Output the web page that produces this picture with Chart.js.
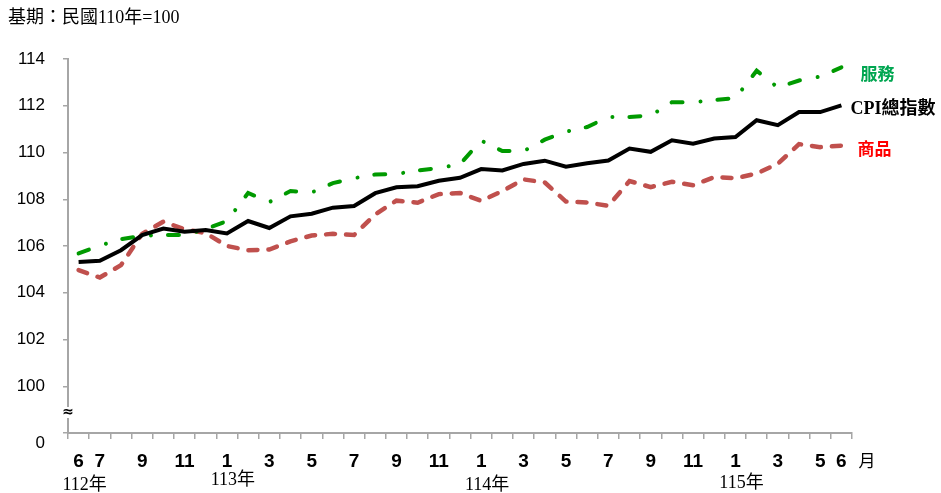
<!DOCTYPE html>
<html>
<head>
<meta charset="utf-8">
<script src="https://cdn.jsdelivr.net/npm/chart.js@4.4.1/dist/chart.umd.min.js"></script>
<style>
  html, body { margin: 0; padding: 0; background: #fff; }
  #wrap { width: 941px; height: 493px; position: relative; }
</style>
</head>
<body>
<div id="wrap"><canvas id="cpiChart"></canvas></div>
<script>
// 112年6月 ~ 115年6月
const months = [
  '112/6', '112/7', '112/8', '112/9', '112/10', '112/11', '112/12',
  '113/1', '113/2', '113/3', '113/4', '113/5', '113/6', '113/7', '113/8', '113/9', '113/10', '113/11', '113/12',
  '114/1', '114/2', '114/3', '114/4', '114/5', '114/6', '114/7', '114/8', '114/9', '114/10', '114/11', '114/12',
  '115/1', '115/2', '115/3', '115/4', '115/5', '115/6'
];
const monthTicks = [
  '6', '7', '', '9', '', '11', '',
  '1', '', '3', '', '5', '', '7', '', '9', '', '11', '',
  '1', '', '3', '', '5', '', '7', '', '9', '', '11', '',
  '1', '', '3', '', '5', '6'
];
const yearLabels = ['112年', '113年', '114年', '115年'];
const yearAt = ['112/6', '113/1', '114/1', '115/1'];

const cpiTotal = [
  105.32, 105.37, 105.82, 106.47, 106.75, 106.61, 106.68, 106.54, 107.07, 106.77,
  107.27, 107.38, 107.64, 107.71, 108.26, 108.51, 108.56, 108.79, 108.92, 109.29,
  109.23, 109.51, 109.65, 109.39, 109.54, 109.66, 110.17, 110.03, 110.52, 110.38,
  110.60, 110.66, 111.38, 111.17, 111.73, 111.73, 112.02
];
const services = [
  105.68, 106.02, 106.29, 106.44, 106.47, 106.47, 106.72, 107.07, 108.27, 107.88,
  108.35, 108.29, 108.69, 108.90, 109.06, 109.08, 109.23, 109.33, 109.50, 110.51,
  110.06, 110.06, 110.55, 110.89, 111.09, 111.52, 111.52, 111.58, 112.15, 112.15,
  112.24, 112.33, 113.50, 112.78, 113.08, 113.25, 113.64
];
const goods = [
  104.97, 104.65, 105.18, 106.52, 107.04, 106.72, 106.55, 106.00, 105.82, 105.85,
  106.20, 106.45, 106.52, 106.47, 107.35, 107.94, 107.85, 108.22, 108.27, 107.93,
  108.35, 108.85, 108.72, 107.90, 107.86, 107.72, 108.78, 108.52, 108.75, 108.60,
  108.95, 108.90, 109.10, 109.52, 110.36, 110.23, 110.29
];

const baseNote = '基期：民國110年=100';
const yMin = 98, yMax = 114, yStep = 2;

const axisGray = '#a6a6a6';
const yearY = [485, 480, 485, 483];

const extraText = {
  id: 'extraText',
  afterDraw(chart) {
    const ctx = chart.ctx;
    const xs = chart.scales.x;
    const ys = chart.scales.y;
    const last = months.length - 1;
    const lastX = xs.getPixelForValue(last);
    ctx.save();
    ctx.textBaseline = 'middle';

    // 基期
    ctx.fillStyle = '#000';
    ctx.textAlign = 'left';
    ctx.font = '18px "Liberation Serif", "Noto Sans CJK TC", serif';
    ctx.fillText(baseNote, 8, 18);

    // year labels under the month ticks
    ctx.textAlign = 'center';
    yearLabels.forEach(function(t, k) {
      const px = xs.getPixelForValue(months.indexOf(yearAt[k])) + 6;
      ctx.fillText(t, px, yearY[k]);
    });

    // 月
    ctx.font = '17px "Noto Sans CJK TC", sans-serif';
    ctx.fillText('月', xs.right + 15, 461);

    // axis break mark
    ctx.fillStyle = '#fff';
    ctx.fillRect(xs.left - 5, 407, 10, 11);
    ctx.fillStyle = '#000';
    ctx.font = 'bold 14px "DejaVu Sans", sans-serif';
    ctx.fillText('≈', xs.left, 412);

    // series names at the right end
    ctx.textAlign = 'left';
    ctx.font = 'bold 17px "Noto Sans CJK TC", sans-serif';
    ctx.fillStyle = '#00a651';
    ctx.fillText('服務', lastX + 19, ys.getPixelForValue(services[last]) + 6);

    ctx.font = 'bold 18px "Liberation Serif", "Noto Sans CJK TC", serif';
    ctx.fillStyle = '#000';
    ctx.fillText('CPI總指數', lastX + 9, ys.getPixelForValue(cpiTotal[last]) + 4.5);

    ctx.font = 'bold 17px "Noto Sans CJK TC", sans-serif';
    ctx.fillStyle = '#ff0000';
    ctx.fillText('商品', lastX + 16, ys.getPixelForValue(goods[last]) + 2.5);
    ctx.restore();
  }
};

const ctx = document.getElementById('cpiChart').getContext('2d');

const cpiChart = new Chart(ctx, {
  type: 'line',
  data: {
    labels: months,
    datasets: [
      {
        label: 'CPI總指數',
        data: cpiTotal,
        borderColor: '#000000',
        borderWidth: 4,
        borderJoinStyle: 'miter',
        pointRadius: 0,
        tension: 0
      },
      {
        label: '服務',
        data: services,
        borderColor: '#009a00',
        borderWidth: 4,
        borderDash: [11, 18, 0.01, 17],
        borderCapStyle: 'round',
        pointRadius: 0,
        tension: 0
      },
      {
        label: '商品',
        data: goods,
        borderColor: '#c0504d',
        borderWidth: 4.5,
        borderDash: [9, 11],
        borderCapStyle: 'round',
        pointRadius: 0,
        tension: 0
      }
    ]
  },
  options: {
    responsive: true,
    maintainAspectRatio: false,
    animation: false,
    layout: {
      padding: { top: 59, right: 89, bottom: 0, left: 0 }
    },
    plugins: {
      legend: { display: false },
      title: { display: false },
      tooltip: { enabled: false }
    },
    scales: {
      x: {
        type: 'category',
        offset: true,
        afterFit: function(scale) { scale.height = 60; },
        grid: {
          offset: true,
          drawOnChartArea: false,
          drawTicks: true,
          tickLength: 6,
          color: axisGray,
          lineWidth: 1.5
        },
        border: { display: true, color: axisGray, width: 2 },
        ticks: {
          autoSkip: false,
          maxRotation: 0,
          padding: 11,
          color: '#000',
          font: { family: '"Liberation Sans Narrow", "Liberation Sans", sans-serif', size: 19, weight: 'bold' },
          callback: function(value, index) { return monthTicks[index]; }
        }
      },
      y: {
        min: yMin,
        max: yMax,
        afterFit: function(scale) { scale.width = 68; },
        grid: {
          drawOnChartArea: false,
          drawTicks: true,
          tickLength: 5,
          color: axisGray,
          lineWidth: 1.5
        },
        border: { display: true, color: axisGray, width: 2 },
        ticks: {
          stepSize: yStep,
          padding: 18,
          color: '#000',
          font: { family: '"Liberation Sans", sans-serif', size: 17 },
          callback: function(value) { return value === yMin ? ['', '0'] : String(value); }
        }
      }
    }
  },
  plugins: [extraText]
});
</script>
</body>
</html>
